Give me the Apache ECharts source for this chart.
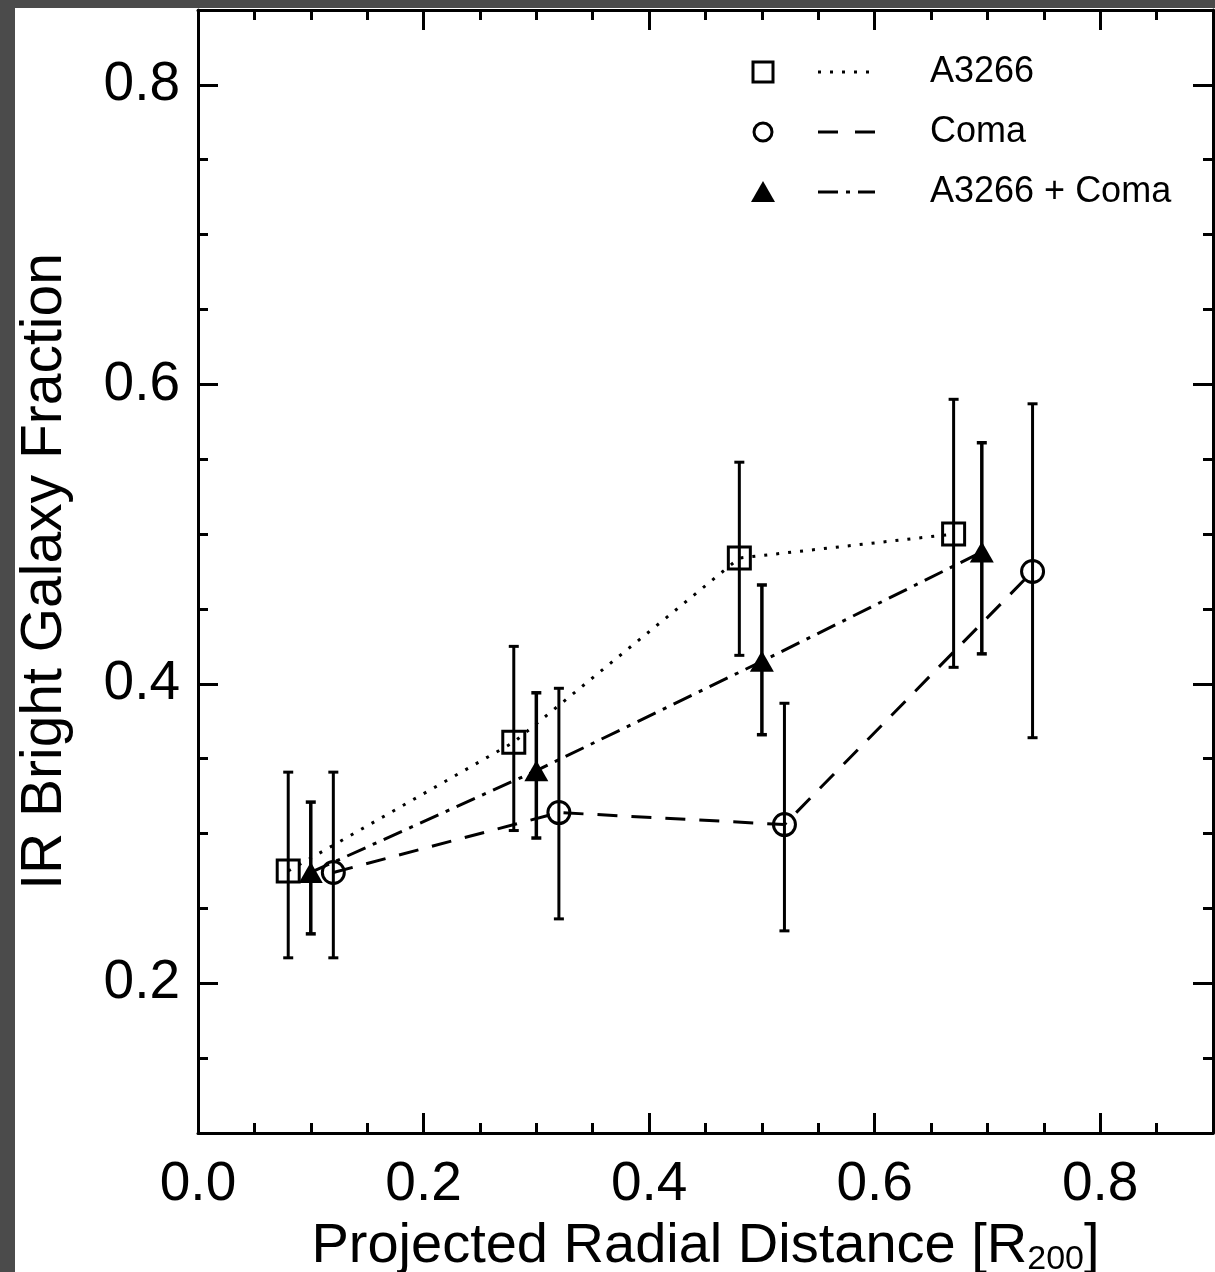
<!DOCTYPE html>
<html>
<head>
<meta charset="utf-8">
<script src="https://cdn.jsdelivr.net/npm/echarts@6/dist/echarts.min.js"></script>
<style>
html,body{margin:0;padding:0;background:#4b4b4b;width:1215px;height:1272px;overflow:hidden;}
#c{position:absolute;left:15px;top:8px;width:1200px;height:1264px;background:#ffffff;}
</style>
</head>
<body>
<div id="c"></div>
<script>
// ---- data ----
const radiusA3266 = [0.08, 0.28, 0.48, 0.67];
const fracA3266   = [0.275, 0.361, 0.484, 0.500];
const lowA3266    = [0.217, 0.302, 0.419, 0.411];
const highA3266   = [0.341, 0.425, 0.548, 0.590];

const radiusComa = [0.12, 0.32, 0.52, 0.74];
const fracComa   = [0.274, 0.314, 0.306, 0.475];
const lowComa    = [0.217, 0.243, 0.235, 0.364];
const highComa   = [0.341, 0.397, 0.387, 0.587];

const radiusBoth = [0.10, 0.30, 0.50, 0.695];
const fracBoth   = [0.274, 0.342, 0.415, 0.488];
const lowBoth    = [0.233, 0.297, 0.366, 0.420];
const highBoth   = [0.321, 0.394, 0.466, 0.561];

const xMajorTicks = [0, 0.2, 0.4, 0.6, 0.8];
const xMinorTicks = [0.05, 0.1, 0.15, 0.25, 0.3, 0.35, 0.45, 0.5, 0.55, 0.65, 0.7, 0.75, 0.85];
const yMajorTicks = [0.2, 0.4, 0.6, 0.8];
const yMinorTicks = [0.15, 0.25, 0.3, 0.35, 0.45, 0.5, 0.55, 0.65, 0.7, 0.75];

const legendNames = ['A3266', 'Coma', 'A3266 + Coma'];

// ---- build ----
const FONT = 'Liberation Sans';
const BLACK = '#000000';
const zip2 = (a, b) => a.map((v, i) => [v, b[i]]);
const zip3 = (a, b, c) => a.map((v, i) => [v, b[i], c[i]]);

function errRender(lw) {
  return function (params, api) {
    const x = api.value(0), lo = api.value(1), hi = api.value(2);
    const pLo = api.coord([x, lo]);
    const pHi = api.coord([x, hi]);
    const w = 5;
    const style = { stroke: BLACK, lineWidth: lw, fill: null };
    return {
      type: 'group',
      children: [
        { type: 'line', shape: { x1: pLo[0], y1: pLo[1], x2: pHi[0], y2: pHi[1] }, style: style },
        { type: 'line', shape: { x1: pLo[0] - w, y1: pLo[1], x2: pLo[0] + w, y2: pLo[1] }, style: style },
        { type: 'line', shape: { x1: pHi[0] - w, y1: pHi[1], x2: pHi[0] + w, y2: pHi[1] }, style: style }
      ]
    };
  };
}

const X_MIN = 0, X_MAX = 0.9, Y_MIN = 0.1, Y_MAX = 0.85;

function xAxisDef(pos, major, withLabel) {
  return {
    type: 'value', position: pos, min: X_MIN, max: X_MAX, interval: 0.05,
    axisLine: { show: major, onZero: false, lineStyle: { color: BLACK, width: 3 } },
    axisTick: { show: true, inside: true, length: major ? 20 : 10,
      lineStyle: { color: BLACK, width: 3 }, customValues: major ? xMajorTicks : xMinorTicks },
    axisLabel: withLabel ? { show: true, customValues: xMajorTicks, fontFamily: FONT, fontSize: 55,
      color: BLACK, margin: 24, formatter: v => v.toFixed(1) } : { show: false },
    splitLine: { show: false },
    name: withLabel ? 'Projected Radial Distance [R{sub|200}]' : '',
    nameLocation: 'middle', nameGap: 82,
    nameTextStyle: { fontFamily: FONT, fontSize: 56, color: BLACK, lineHeight: 60,
      rich: { sub: { fontFamily: FONT, fontSize: 34, color: BLACK, lineHeight: 60, verticalAlign: 'bottom', padding: [26, 0, 0, 0] } } }
  };
}
function yAxisDef(pos, major, withLabel) {
  return {
    type: 'value', position: pos, min: Y_MIN, max: Y_MAX, interval: 0.05,
    axisLine: { show: major, onZero: false, lineStyle: { color: BLACK, width: 3 } },
    axisTick: { show: true, inside: true, length: major ? 20 : 10,
      lineStyle: { color: BLACK, width: 3 }, customValues: major ? yMajorTicks : yMinorTicks },
    axisLabel: withLabel ? { show: true, customValues: yMajorTicks, fontFamily: FONT, fontSize: 55,
      color: BLACK, margin: 18, formatter: v => v.toFixed(1) } : { show: false },
    splitLine: { show: false },
    name: withLabel ? 'IR Bright Galaxy Fraction' : '',
    nameLocation: 'middle', nameGap: 124, nameRotate: 90,
    nameTextStyle: { fontFamily: FONT, fontSize: 57, color: BLACK }
  };
}

const OX = 15, OY = 8; // container offset in page
const legX = 763 - OX, lineX1 = 818 - OX, lineX2 = 875 - OX, textX = 930 - OX;
const rowY = [72 - OY, 132 - OY, 192 - OY];
const legStyle = { stroke: BLACK, lineWidth: 3, fill: null };

const graphic = [
  { type: 'rect', shape: { x: legX - 10, y: rowY[0] - 10, width: 20, height: 20 }, style: legStyle },
  { type: 'circle', shape: { cx: legX, cy: rowY[1], r: 9 }, style: legStyle },
  { type: 'polygon', shape: { points: [[legX, rowY[2] - 11], [legX + 12, rowY[2] + 10], [legX - 12, rowY[2] + 10]] }, style: { fill: BLACK } },
  { type: 'line', shape: { x1: lineX1, y1: rowY[0], x2: lineX2, y2: rowY[0] }, style: { stroke: BLACK, lineWidth: 3, lineDash: [3, 9] } },
  { type: 'line', shape: { x1: lineX1, y1: rowY[1], x2: lineX2, y2: rowY[1] }, style: { stroke: BLACK, lineWidth: 3, lineDash: [20, 17] } },
  { type: 'line', shape: { x1: lineX1, y1: rowY[2], x2: lineX2, y2: rowY[2] }, style: { stroke: BLACK, lineWidth: 3, lineDash: [20, 8, 4, 8] } }
].concat(legendNames.map((n, i) => ({
  type: 'text', x: textX, y: rowY[i],
  style: { text: n, fontFamily: FONT, fontSize: 36, fill: BLACK, verticalAlign: 'middle', align: 'left' }
})));

const option = {
  animation: false,
  backgroundColor: '#ffffff',
  grid: { left: 183, top: 2, right: 2, bottom: 139, containLabel: false, outerBoundsMode: 'none' },
  xAxis: [
    xAxisDef('bottom', true, true),
    xAxisDef('bottom', false, false),
    xAxisDef('top', true, false),
    xAxisDef('top', false, false)
  ],
  yAxis: [
    yAxisDef('left', true, true),
    yAxisDef('left', false, false),
    yAxisDef('right', true, false),
    yAxisDef('right', false, false)
  ],
  graphic: graphic,
  series: [
    {
      name: legendNames[0], type: 'line', data: zip2(radiusA3266, fracA3266),
      symbol: 'rect', symbolSize: 22,
      itemStyle: { color: 'rgba(0,0,0,0)', borderColor: BLACK, borderWidth: 3 },
      lineStyle: { color: BLACK, width: 3, type: [3, 9] }, z: 3
    },
    {
      name: legendNames[1], type: 'line', data: zip2(radiusComa, fracComa),
      symbol: 'circle', symbolSize: 22,
      itemStyle: { color: 'rgba(0,0,0,0)', borderColor: BLACK, borderWidth: 3 },
      lineStyle: { color: BLACK, width: 3, type: [20, 14] }, z: 3
    },
    {
      name: legendNames[2], type: 'line', data: zip2(radiusBoth, fracBoth),
      symbol: 'triangle', symbolSize: [24, 21],
      itemStyle: { color: BLACK, borderWidth: 0 },
      lineStyle: { color: BLACK, width: 3, type: [20, 8, 4, 8] }, z: 3
    },
    { type: 'custom', renderItem: errRender(3), data: zip3(radiusA3266, lowA3266, highA3266), encode: { x: 0, y: [1, 2] }, z: 4 },
    { type: 'custom', renderItem: errRender(3), data: zip3(radiusComa, lowComa, highComa), encode: { x: 0, y: [1, 2] }, z: 4 },
    { type: 'custom', renderItem: errRender(3.5), data: zip3(radiusBoth, lowBoth, highBoth), encode: { x: 0, y: [1, 2] }, z: 4 }
  ]
};

const chart = echarts.init(document.getElementById('c'), null, { renderer: 'canvas' });
chart.setOption(option);
</script>
</body>
</html>
